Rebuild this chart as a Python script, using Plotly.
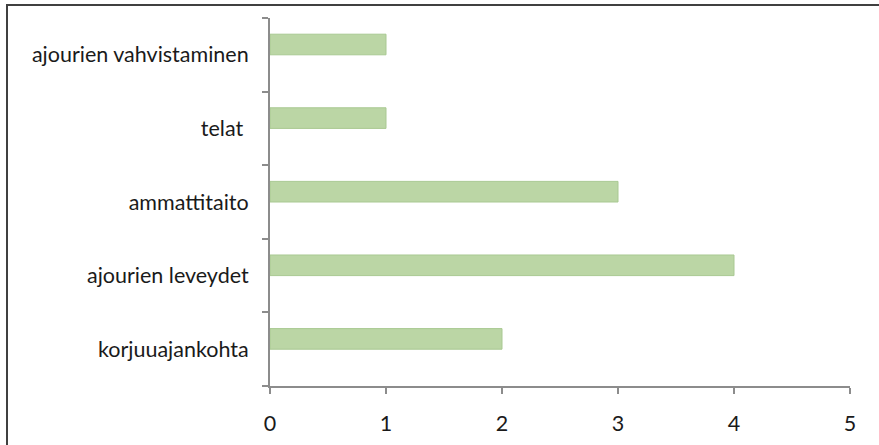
import plotly.graph_objects as go

categories = ["korjuuajankohta", "ajourien leveydet", "ammattitaito", "telat ", "ajourien vahvistaminen"]
values = [2, 4, 3, 1, 1]
x_ticks = [0, 1, 2, 3, 4, 5]

W, H = 879, 445
L, R, T, B = 270, 29, 18, 59
pw, ph = W - L - R, H - T - B

fig = go.Figure(go.Bar(
    x=values, y=categories, orientation="h", width=0.28, offset=0.0,
    marker=dict(color="#BBD6A5", line=dict(color="#A9C992", width=1)),
))

fig.update_layout(
    width=W, height=H, margin=dict(l=L, r=R, t=T, b=B),
    paper_bgcolor="white", plot_bgcolor="white", showlegend=False,
    font=dict(family="Lato", size=21.5, color="#1a1a1a"),
    xaxis=dict(range=[0, 5], tickvals=x_ticks, showgrid=False, zeroline=False,
               showline=True, linecolor="#8c8c8c", linewidth=2, automargin=False,
               ticks="outside", ticklen=6, tickwidth=2, tickcolor="#8c8c8c",
               ticklabelstandoff=11),
    yaxis=dict(categoryorder="array", categoryarray=categories, showgrid=False,
               zeroline=False, showline=True, linecolor="#8c8c8c", linewidth=2,
               automargin=False,
               ticks="outside", ticklen=6, tickwidth=2, tickcolor="#8c8c8c",
               tickson="boundaries", ticklabelstandoff=15),
    shapes=[dict(type="rect", xref="paper", yref="paper",
                 x0=(7 - L) / pw, x1=(W + 10 - L) / pw,
                 y0=(H - B - (H + 10)) / ph, y1=1 + (T - 5) / ph,
                 line=dict(color="#404040", width=2), fillcolor="rgba(0,0,0,0)",
                 layer="below")],
)

fig.write_html("out.html")
